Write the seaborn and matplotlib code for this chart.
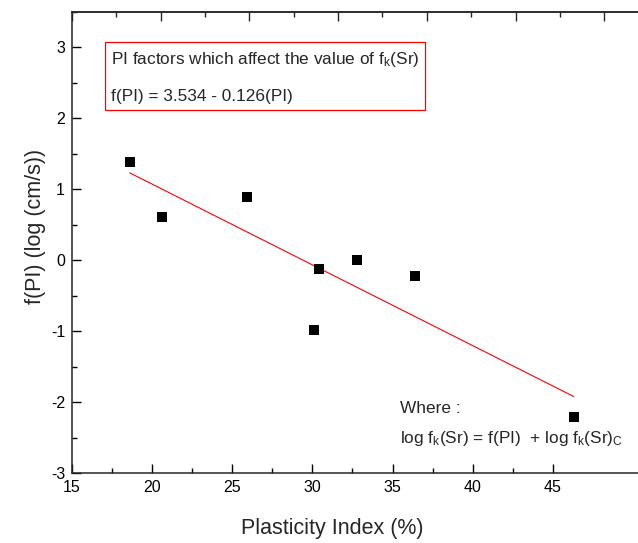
import numpy as np
import pandas as pd
import matplotlib
matplotlib.use("Agg")
import matplotlib.pyplot as plt
from matplotlib.ticker import MultipleLocator, FixedLocator
import seaborn as sns

# values
plasticity_index = [18.6, 20.6, 25.9, 30.4, 30.1, 32.8, 36.4, 46.3]
f_pi = [1.38, 0.61, 0.89, -0.12, -0.99, 0.01, -0.22, -2.21]
x_ticks = [15, 20, 25, 30, 35, 40, 45]
x_minor = [17.5, 22.5, 27.5, 32.5, 37.5, 42.5]
y_ticks = [-3, -2, -1, 0, 1, 2, 3]

df = pd.DataFrame({"PI": plasticity_index, "fPI": f_pi})

sns.set_style("ticks")
plt.rcParams["font.family"] = ["Liberation Sans", "DejaVu Sans"]
plt.rcParams["mathtext.default"] = "regular"
plt.rcParams["axes.unicode_minus"] = False

fig = plt.figure(figsize=(6.38, 5.43), dpi=100)
ax = fig.add_axes([72 / 638, 70 / 543, 569 / 638, 461 / 543])

sns.regplot(data=df, x="PI", y="fPI", ax=ax, ci=None, marker="s",
            scatter_kws=dict(color="black", s=48, linewidths=0, zorder=3, alpha=1),
            line_kws=dict(color="red", lw=0.8, zorder=2))

ax.set_xlim(15, 50.5)
ax.set_ylim(-3, 3.5)
ax.set_xticks(x_ticks)
ax.set_yticks(y_ticks)
ax.xaxis.set_minor_locator(FixedLocator(x_minor))
ax.yaxis.set_minor_locator(MultipleLocator(0.5))
ax.tick_params(which="both", direction="in", width=1.0, labelsize=11.5, colors="black")
ax.tick_params(which="major", length=6.5, pad=5)
ax.tick_params(which="minor", length=3.5)
ax.spines["right"].set_visible(False)
for s in ["left", "bottom", "top"]:
    ax.spines[s].set_linewidth(1.1)

ax.set_xlabel("Plasticity Index (%)", fontsize=15.5)
ax.xaxis.set_label_coords((332 - 72) / 569, -(518 - 473) / 461)
ax.set_ylabel("f(PI) (log (cm/s))", fontsize=15.5)
ax.yaxis.set_label_coords(-(72 - 46) / 569, (473 - 226) / 461)

# top axis has its own (slightly wider) tick spacing in the reference
top = ax.twiny()
top.set_xlim(15, 15 + 35.5 * 0.9034)
top.xaxis.set_major_locator(MultipleLocator(5))
top.xaxis.set_minor_locator(MultipleLocator(2.5))
top.tick_params(which="both", direction="in", width=1.0, labeltop=False)
top.tick_params(which="major", length=6.5)
top.tick_params(which="minor", length=3.5)
for s in ["left", "bottom", "right"]:
    top.spines[s].set_visible(False)
top.spines["top"].set_linewidth(1.1)

ax.text(0.068, 0.9176, "PI factors which affect the value of f$_{k}$(Sr)\n\nf(PI) = 3.534 - 0.126(PI)",
        transform=ax.transAxes, fontsize=12.4, va="top", ha="left", linespacing=1.2,
        bbox=dict(boxstyle="square,pad=0.35", fc="white", ec="red", lw=0.9))

ax.text(0.5765, 0.1295, "Where :", transform=ax.transAxes, fontsize=12.4, va="baseline", ha="left")
ax.text(0.5765, 0.0657, "log f$_{k}$(Sr) = f(PI)  + log f$_{k}$(Sr)$_{C}$",
        transform=ax.transAxes, fontsize=12.4, va="baseline", ha="left")

fig.savefig("out.png", dpi=100)
